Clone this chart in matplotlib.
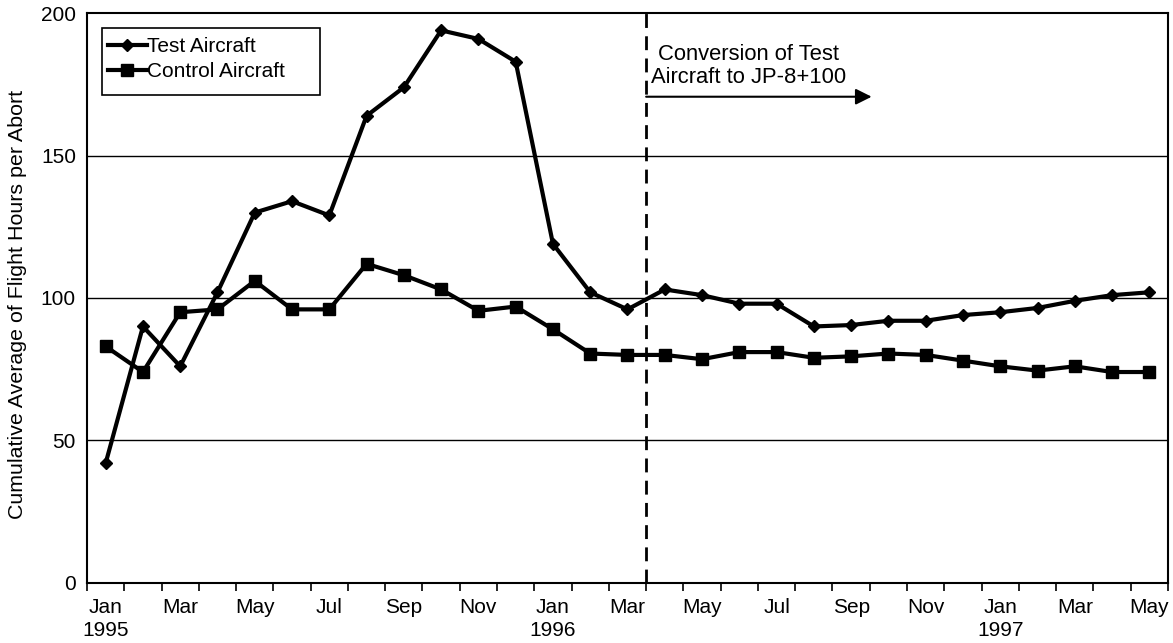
import numpy as np
import matplotlib
matplotlib.use("Agg")
import matplotlib.pyplot as plt
from matplotlib.patches import Rectangle

plt.rcParams["font.family"] = ["Liberation Sans", "DejaVu Sans"]

# monthly labels, Jan 1995 .. May 1997
months = ["Jan", "Feb", "Mar", "Apr", "May", "Jun", "Jul", "Aug", "Sep", "Oct", "Nov", "Dec"] * 2 + \
         ["Jan", "Feb", "Mar", "Apr", "May"]
years = ["1995"] + [""] * 11 + ["1996"] + [""] * 11 + ["1997"] + [""] * 4

test_aircraft = [42, 90, 76, 102, 130, 134, 129, 164, 174, 194, 191, 183,
                 119, 102, 96, 103, 101, 98, 98, 90, 90.5, 92, 92, 94,
                 95, 96.5, 99, 101, 102]
control_aircraft = [83, 74, 95, 96, 106, 96, 96, 112, 108, 103, 95.5, 97,
                    89, 80.5, 80, 80, 78.5, 81, 81, 79, 79.5, 80.5, 80, 78,
                    76, 74.5, 76, 74, 74]

conversion_at = 14.5   # between Mar 96 and Apr 96
arrow_end = 20.55
arrow_y = 170.7

fig = plt.figure(figsize=(11.73, 6.43), dpi=100)
ax = fig.add_axes([0.0742, 0.0938, 0.9215, 0.8855])

x = np.arange(len(months))
ax.plot(x, test_aircraft, color="black", lw=3, marker="D", markersize=6.5,
        label="Test Aircraft", zorder=4)
ax.plot(x, control_aircraft, color="black", lw=3, marker="s", markersize=8,
        label="Control Aircraft", zorder=4)

ax.set_xlim(-0.5, len(months) - 0.5)
ax.set_ylim(0, 200)

# gridlines
for yv in [50, 100, 150]:
    ax.axhline(yv, color="black", lw=1, zorder=1)

ax.axvline(conversion_at, color="black", lw=2, ls=(0, (5, 3)), zorder=3)
ax.annotate("", xy=(arrow_end, arrow_y), xytext=(conversion_at, arrow_y),
            arrowprops=dict(arrowstyle="-|>", color="black", lw=1.5,
                            mutation_scale=24, shrinkA=0, shrinkB=0))
ax.text(17.25, 181.4, "Conversion of Test\nAircraft to JP-8+100", ha="center",
        va="center", fontsize=15.8, linespacing=1.15)

# ticks: boundaries as major, labels on minor at centres
ax.set_xticks(np.arange(-0.5, len(months), 1))
ax.set_xticklabels([])
ax.set_xticks(x[::2], minor=True)
ax.set_xticklabels([f"{m}\n{y}" if y else m for m, y in zip(months[::2], years[::2])],
                   minor=True, fontsize=15, linespacing=1.25)
ax.tick_params(axis="x", which="major", length=6, width=1.2, direction="out")
ax.tick_params(axis="x", which="minor", length=0, pad=11)
ax.set_yticks([0, 50, 100, 150, 200])
ax.tick_params(axis="y", length=0, labelsize=15, pad=8)

for s in ax.spines.values():
    s.set_linewidth(1.5)

ax.set_ylabel("Cumulative Average of Flight Hours per Abort", fontsize=15.4)
ax.yaxis.set_label_coords(-0.0555, 0.489)

# legend box drawn separately so the padding matches the original
ax.add_patch(Rectangle((0.0136, 0.8565), 0.2019, 0.1182, transform=ax.transAxes,
                       facecolor="white", edgecolor="black", lw=1.2, zorder=5))
leg = ax.legend(loc="upper left", bbox_to_anchor=(0.0194, 0.958), fontsize=15,
                handlelength=1.85, handletextpad=0.0, borderpad=0,
                labelspacing=0.3, frameon=False, borderaxespad=0)
leg.set_zorder(6)

fig.savefig("out.png", dpi=100)
